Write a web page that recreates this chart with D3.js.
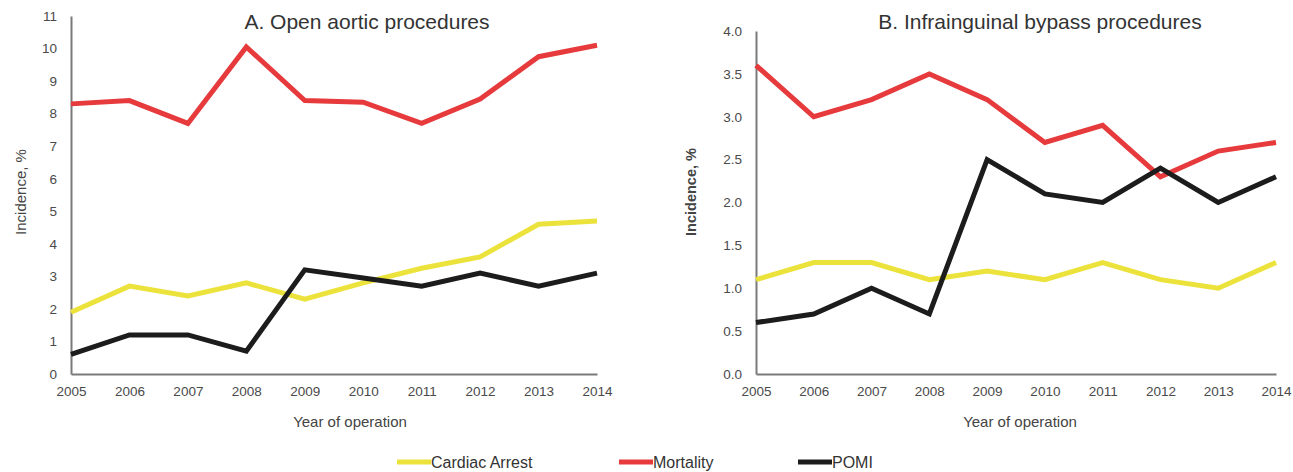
<!DOCTYPE html>
<html><head><meta charset="utf-8">
<script src="https://cdn.jsdelivr.net/npm/d3@7"></script>
<style>body{margin:0;background:#fff}svg{display:block}</style>
</head><body>
<svg id="c" width="1293" height="472"></svg>
<script>
const years = [2005,2006,2007,2008,2009,2010,2011,2012,2013,2014];
const seriesNames = ["Cardiac Arrest","Mortality","POMI"];
const seriesColors = ["#ece23c","#e63a3c","#1c1c1c"];
// Panel A: Open aortic procedures
const aCardiac = [1.9,2.7,2.4,2.8,2.3,2.8,3.25,3.6,4.6,4.7];
const aMortality = [8.3,8.4,7.7,10.05,8.4,8.35,7.7,8.45,9.75,10.1];
const aPOMI = [0.6,1.2,1.2,0.7,3.2,2.95,2.7,3.1,2.7,3.1];
const aTicks = [0,1,2,3,4,5,6,7,8,9,10,11];
// Panel B: Infrainguinal bypass procedures
const bCardiac = [1.1,1.3,1.3,1.1,1.2,1.1,1.3,1.1,1.0,1.3];
const bMortality = [3.6,3.0,3.2,3.5,3.2,2.7,2.9,2.3,2.6,2.7];
const bPOMI = [0.6,0.7,1.0,0.7,2.5,2.1,2.0,2.4,2.0,2.3];
const bTicks = [0,0.5,1,1.5,2,2.5,3,3.5,4];

const svg = d3.select("#c");
const font = "'Liberation Sans', Arial, sans-serif";

function panel(opt){
  const g = svg.append("g");
  const x = d3.scaleLinear().domain([2005,2014]).range([opt.x0,opt.x1]);
  const y = d3.scaleLinear().domain([0,opt.ymax]).range([374,opt.ytop]);
  const ya = g.append("g").attr("transform",`translate(${opt.x0},0)`)
    .call(d3.axisLeft(y).tickValues(opt.ticks).tickSize(0).tickPadding(14).tickFormat(opt.fmt));
  ya.select(".domain").attr("stroke","#7a7a7a").attr("stroke-width",2);
  const xa = g.append("g").attr("transform",`translate(0,374)`)
    .call(d3.axisBottom(x).tickValues(years).tickSize(0).tickPadding(12).tickFormat(d3.format("d")));
  xa.select(".domain").attr("stroke","#7a7a7a").attr("stroke-width",2);
  g.selectAll(".tick text").attr("font-family",font).attr("font-size",13.5).attr("fill","#4a4a4a");
  const line = d3.line().x((d,i)=>x(years[i])).y(d=>y(d));
  opt.data.forEach((arr,k)=>{
    g.append("path").datum(arr).attr("d",line).attr("fill","none")
      .attr("stroke",seriesColors[k]).attr("stroke-width",5).attr("stroke-linejoin","miter");
  });
  g.append("text").attr("x",opt.titleX).attr("y",29).attr("text-anchor","middle")
    .attr("font-family",font).attr("font-size",21).attr("fill","#333").text(opt.title);
  g.append("text").attr("x",(opt.x0+opt.x1)/2+opt.xlabOff).attr("y",427).attr("text-anchor","middle")
    .attr("font-family",font).attr("font-size",15).attr("fill","#444").text("Year of operation");
  g.append("text").attr("transform",`translate(${opt.ylabX},192) rotate(-90)`).attr("text-anchor","middle")
    .attr("font-family",font).attr("font-size",opt.ylabBold?14.5:15).attr("font-weight",opt.ylabBold?"bold":"normal")
    .attr("fill","#444").text("Incidence, %");
}

panel({x0:71,x1:597,ytop:16,ymax:11,ticks:aTicks,fmt:d3.format("d"),
  data:[aCardiac,aMortality,aPOMI],title:"A. Open aortic procedures",titleX:367,xlabOff:16,ylabX:26,ylabBold:false});
panel({x0:756,x1:1276,ytop:31,ymax:4,ticks:bTicks,fmt:d3.format(".1f"),
  data:[bCardiac,bMortality,bPOMI],title:"B. Infrainguinal bypass procedures",titleX:1040,xlabOff:4,ylabX:696,ylabBold:true});

const legX = [397,619,798];
const lg = svg.append("g");
seriesNames.forEach((n,i)=>{
  lg.append("rect").attr("x",legX[i]).attr("y",459.5).attr("width",34).attr("height",5).attr("fill",seriesColors[i]);
  lg.append("text").attr("x",legX[i]+34).attr("y",467.5).attr("font-family",font).attr("font-size",16)
    .attr("fill","#333").text(n);
});
</script>
</body></html>
